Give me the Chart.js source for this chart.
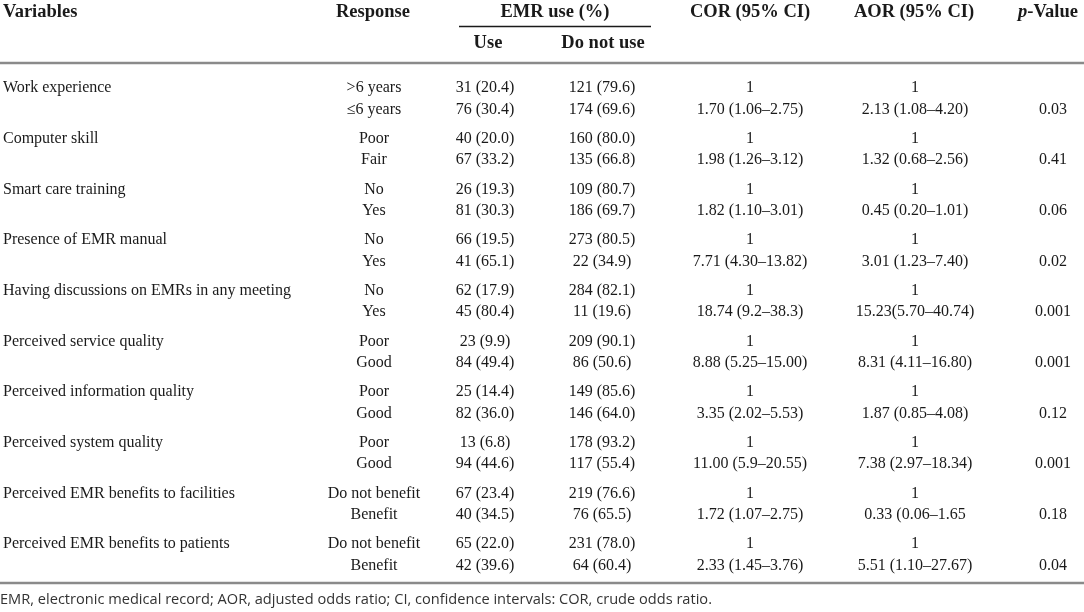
<!DOCTYPE html>
<html>
<head>
<meta charset="utf-8">
<script src="https://cdn.jsdelivr.net/npm/chart.js@4.4.1/dist/chart.umd.min.js"></script>
<style>
  html, body { margin: 0; padding: 0; background: #fff; }
  #wrap { width: 1084px; height: 612px; position: relative; }
</style>
</head>
<body>
<div id="wrap"><canvas id="tableChart"></canvas></div>
<script>
// Table content, one array per column
const variables = [
    'Work experience', 'Computer skill', 'Smart care training', 'Presence of EMR manual',
    'Having discussions on EMRs in any meeting', 'Perceived service quality',
    'Perceived information quality', 'Perceived system quality',
    'Perceived EMR benefits to facilities', 'Perceived EMR benefits to patients'
];
const responses = [
    '>6 years', '≤6 years', 'Poor', 'Fair', 'No', 'Yes', 'No', 'Yes', 'No', 'Yes',
    'Poor', 'Good', 'Poor', 'Good', 'Poor', 'Good',
    'Do not benefit', 'Benefit', 'Do not benefit', 'Benefit'
];
const useCount = [31, 76, 40, 67, 26, 81, 66, 41, 62, 45, 23, 84, 25, 82, 13, 94, 67, 40, 65, 42];
const usePct = [20.4, 30.4, 20.0, 33.2, 19.3, 30.3, 19.5, 65.1, 17.9, 80.4, 9.9, 49.4, 14.4, 36.0, 6.8, 44.6, 23.4, 34.5, 22.0, 39.6];
const notUseCount = [121, 174, 160, 135, 109, 186, 273, 22, 284, 11, 209, 86, 149, 146, 178, 117, 219, 76, 231, 64];
const notUsePct = [79.6, 69.6, 80.0, 66.8, 80.7, 69.7, 80.5, 34.9, 82.1, 19.6, 90.1, 50.6, 85.6, 64.0, 93.2, 55.4, 76.6, 65.5, 78.0, 60.4];
// odds ratios for the second level of each variable (first level is the reference, = 1)
const cor = [
    '1.70 (1.06–2.75)', '1.98 (1.26–3.12)', '1.82 (1.10–3.01)', '7.71 (4.30–13.82)', '18.74 (9.2–38.3)',
    '8.88 (5.25–15.00)', '3.35 (2.02–5.53)', '11.00 (5.9–20.55)', '1.72 (1.07–2.75)', '2.33 (1.45–3.76)'
];
const aor = [
    '2.13 (1.08–4.20)', '1.32 (0.68–2.56)', '0.45 (0.20–1.01)', '3.01 (1.23–7.40)', '15.23(5.70–40.74)',
    '8.31 (4.11–16.80)', '1.87 (0.85–4.08)', '7.38 (2.97–18.34)', '0.33 (0.06–1.65', '5.51 (1.10–27.67)'
];
const pValues = ['0.03', '0.41', '0.06', '0.02', '0.001', '0.001', '0.12', '0.001', '0.18', '0.04'];

const headers = ['Variables', 'Response', 'Use', 'Do not use', 'COR (95% CI)', 'AOR (95% CI)', 'p-Value'];
const groupHeader = 'EMR use (%)';
const footnote = 'EMR, electronic medical record; AOR, adjusted odds ratio; CI, confidence intervals: COR, crude odds ratio.';

// Layout (canvas units: the scales run 0..1084 and 0..612)
const colX = [3, 374, 485, 602, 750, 915, 1053];
const headX = [3, 373, 488, 603, 750, 914, 1048];
const firstRowY = 88, groupStep = 50.67, rowStep = 21.5;
const rowY = i => firstRowY + Math.floor(i / 2) * groupStep + (i % 2) * rowStep;

const serif = '"Liberation Serif", "DejaVu Serif", serif';
const ink = '#1a1a1a';

// cell strings per column, one entry per table row
const cells = [
    responses.map((_, i) => i % 2 === 0 ? variables[i / 2] : ''),
    responses,
    useCount.map((v, i) => `${v} (${usePct[i].toFixed(1)})`),
    notUseCount.map((v, i) => `${v} (${notUsePct[i].toFixed(1)})`),
    responses.map((_, i) => i % 2 === 0 ? '1' : cor[(i - 1) / 2]),
    responses.map((_, i) => i % 2 === 0 ? '1' : aor[(i - 1) / 2]),
    responses.map((_, i) => i % 2 === 0 ? '' : pValues[(i - 1) / 2])
];

const datasets = cells.map((col, c) => ({
    label: headers[c],
    data: col.map((_, i) => ({ x: colX[c], y: rowY(i) })),
    texts: col,
    align: c === 0 ? 'left' : 'center',
    pointRadius: 0,
    showLine: false
}));

// draws the cell texts at the points, plus header and rules
const tablePlugin = {
    id: 'tablePlugin',
    afterDatasetsDraw(chart) {
        const { ctx, scales: { x, y } } = chart;
        const headFont = `bold 18.5px ${serif}`;
        const h1 = y.getPixelForValue(12), h2 = y.getPixelForValue(43);
        ctx.save();
        ctx.fillStyle = ink;
        ctx.textBaseline = 'middle';

        // body cells
        ctx.font = `16px ${serif}`;
        chart.data.datasets.forEach((ds, c) => {
            const meta = chart.getDatasetMeta(c);
            ctx.textAlign = ds.align;
            meta.data.forEach((pt, i) => {
                if (ds.texts[i]) ctx.fillText(ds.texts[i], pt.x, pt.y);
            });
        });

        // header row 1
        ctx.font = headFont;
        ctx.textAlign = 'left';
        ctx.fillText(headers[0], x.getPixelForValue(headX[0]), h1);
        ctx.textAlign = 'center';
        ctx.fillText(headers[1], x.getPixelForValue(headX[1]), h1);
        ctx.fillText(groupHeader, x.getPixelForValue(555), h1);
        ctx.fillText(headers[4], x.getPixelForValue(headX[4]), h1);
        ctx.fillText(headers[5], x.getPixelForValue(headX[5]), h1);
        // p-Value with italic p
        const pW = ctx.measureText('-Value').width;
        ctx.font = `italic ${headFont}`;
        const iW = ctx.measureText('p').width;
        const startX = x.getPixelForValue(headX[6]) - (pW + iW) / 2;
        ctx.textAlign = 'left';
        ctx.fillText('p', startX, h1);
        ctx.font = headFont;
        ctx.fillText('-Value', startX + iW, h1);

        // header row 2
        ctx.textAlign = 'center';
        ctx.fillText(headers[2], x.getPixelForValue(headX[2]), h2);
        ctx.fillText(headers[3], x.getPixelForValue(headX[3]), h2);

        // rules
        ctx.strokeStyle = ink;
        ctx.lineWidth = 1.5;
        ctx.beginPath();
        ctx.moveTo(x.getPixelForValue(459), y.getPixelForValue(26.5));
        ctx.lineTo(x.getPixelForValue(651), y.getPixelForValue(26.5));
        ctx.stroke();
        ctx.strokeStyle = '#8a8a8a';
        ctx.lineWidth = 2.5;
        [63, 583].forEach(v => {
            ctx.beginPath();
            ctx.moveTo(x.getPixelForValue(0), y.getPixelForValue(v));
            ctx.lineTo(x.getPixelForValue(1084), y.getPixelForValue(v));
            ctx.stroke();
        });

        // footnote
        ctx.fillStyle = '#333';
        ctx.font = '14.6px "Open Sans", sans-serif';
        ctx.textAlign = 'left';
        ctx.fillText(footnote, x.getPixelForValue(0), y.getPixelForValue(600));
        ctx.restore();
    }
};

new Chart(document.getElementById('tableChart'), {
    type: 'scatter',
    data: { datasets },
    options: {
        responsive: true,
        maintainAspectRatio: false,
        animation: false,
        events: [],
        layout: { padding: 0 },
        plugins: { legend: { display: false }, tooltip: { enabled: false } },
        scales: {
            x: { type: 'linear', min: 0, max: 1084, display: false },
            y: { type: 'linear', min: 0, max: 612, reverse: true, display: false }
        }
    },
    plugins: [tablePlugin]
});
</script>
</body>
</html>
